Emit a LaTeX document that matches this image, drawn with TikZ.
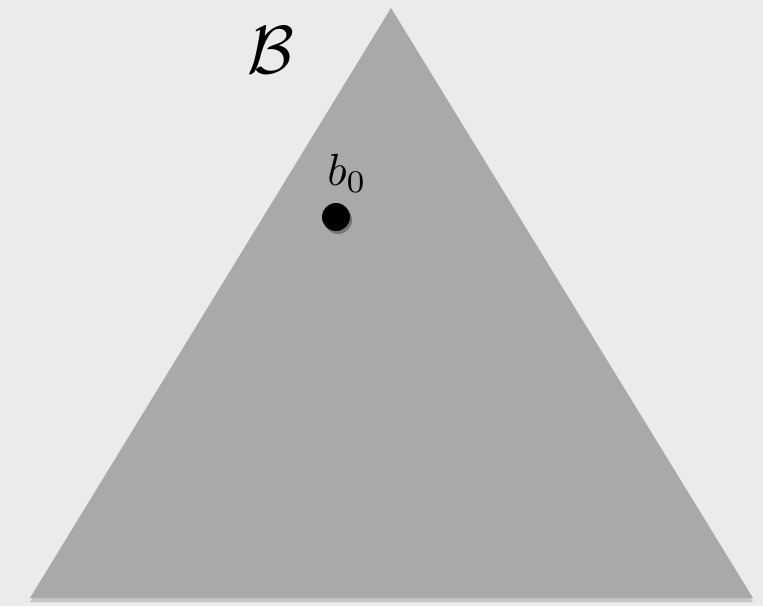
\documentclass[tikz,border=0pt]{standalone}
\usetikzlibrary{shadows}

\definecolor{bgGray}{HTML}{EBEBEB}
\definecolor{setGray}{HTML}{A9A9A9}

\tikzset{
  setshape/.style={fill=setGray, draw=none,
    drop shadow={opacity=0.35, shadow xshift=0pt, shadow yshift=-4pt}},
  pointdot/.style={circle, fill=black, inner sep=0pt, minimum size=28pt,
    drop shadow={fill=black, opacity=0.3, shadow xshift=2pt, shadow yshift=-3pt}},
}

\begin{document}
\begin{tikzpicture}[x=1pt, y=-1pt]
    % Background
    \fill[bgGray] (0,0) rectangle (763,606);
    \useasboundingbox (0,0) rectangle (763,606);

    % Triangle (the set B)
    \path[setshape] (30,598) -- (391,8) -- (753,598) -- cycle;

    % Set name
    \node[scale=6.8] (setname) at (271,50) {$\mathcal{B}$};

    % Point b0
    \node[pointdot] (b0) at (336,217) {};
    \node[scale=4.5] (b0label) at (347,173) {$b_0$};

\end{tikzpicture}
\end{document}
